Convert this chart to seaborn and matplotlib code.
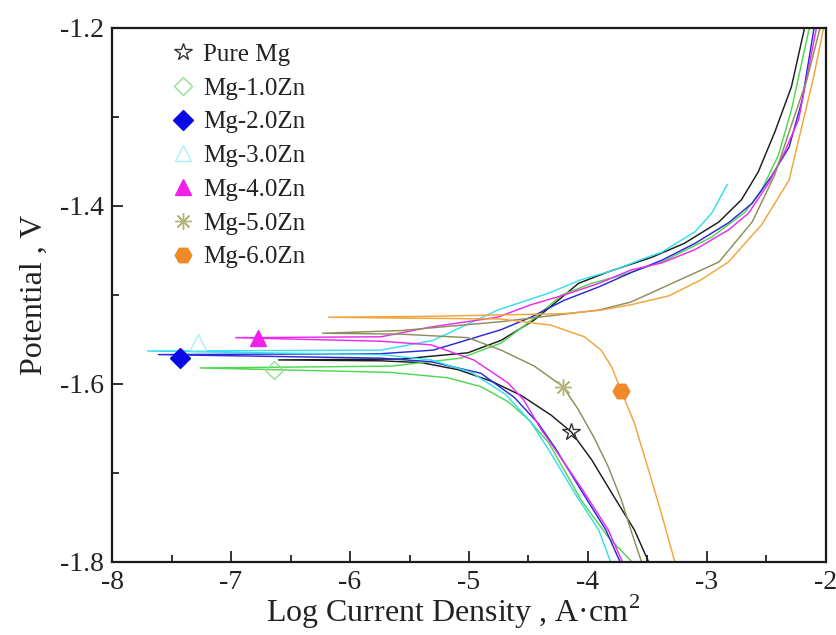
import numpy as np
import pandas as pd
import matplotlib
matplotlib.use("Agg")
import matplotlib.pyplot as plt
from matplotlib.lines import Line2D
from matplotlib.ticker import MultipleLocator
import seaborn as sns

# Potentiodynamic polarization curves of Mg-Zn alloys.
# Each path runs from the cathodic end (bottom), into the corrosion-potential
# spike, and back out along the anodic branch (top right).
ALLOYS = ["Pure Mg", "Mg-1.0Zn", "Mg-2.0Zn", "Mg-3.0Zn", "Mg-4.0Zn", "Mg-5.0Zn", "Mg-6.0Zn"]

PURE_MG_LOGI = [-3.49, -3.61, -3.78, -3.97, -4.14, -4.31, -4.56, -4.81, -5.09, -5.40, -5.74, -6.60,
                -5.57, -5.01, -4.73, -4.45, -4.25, -4.08, -3.83, -3.47, -3.19, -2.90, -2.71, -2.57,
                -2.43, -2.29, -2.18]
PURE_MG_E = [-1.800, -1.764, -1.727, -1.685, -1.654, -1.635, -1.613, -1.597, -1.584, -1.576, -1.574, -1.573,
             -1.572, -1.565, -1.551, -1.528, -1.506, -1.487, -1.474, -1.458, -1.442, -1.418, -1.393, -1.362,
             -1.317, -1.266, -1.200]

ZN10_LOGI = [-3.63, -3.83, -4.06, -4.33, -4.50, -4.67, -4.90, -5.18, -5.66, -7.26,
             -5.66, -5.07, -4.73, -4.45, -4.22, -3.97, -3.72, -3.38, -2.96, -2.68, -2.54, -2.40, -2.29, -2.14]
ZN10_E = [-1.800, -1.772, -1.730, -1.666, -1.640, -1.620, -1.603, -1.593, -1.587, -1.582,
          -1.580, -1.571, -1.554, -1.526, -1.500, -1.487, -1.478, -1.463, -1.435, -1.407, -1.382, -1.343, -1.292, -1.200]

ZN20_LOGI = [-3.73, -3.85, -4.06, -4.28, -4.42, -4.62, -4.90, -5.32, -5.74, -7.61,
             -5.74, -5.30, -4.73, -4.48, -4.20, -3.91, -3.64, -3.38, -3.10, -2.82, -2.62, -2.46, -2.31, -2.20, -2.10]
ZN20_E = [-1.800, -1.764, -1.719, -1.671, -1.644, -1.615, -1.588, -1.575, -1.571, -1.567,
          -1.566, -1.562, -1.539, -1.525, -1.506, -1.491, -1.475, -1.461, -1.442, -1.419, -1.397, -1.367, -1.334, -1.281, -1.200]

ZN30_LOGI = [-3.81, -3.91, -4.10, -4.33, -4.48, -4.69, -4.98, -5.32, -5.74, -7.70,
             -5.74, -5.30, -4.76, -4.33, -4.06, -3.78, -3.49, -3.38, -3.10, -2.96, -2.83]
ZN30_E = [-1.800, -1.764, -1.725, -1.674, -1.643, -1.612, -1.587, -1.573, -1.567, -1.563,
          -1.562, -1.551, -1.517, -1.498, -1.483, -1.472, -1.457, -1.452, -1.429, -1.408, -1.376]

ZN40_LOGI = [-3.71, -3.83, -4.06, -4.33, -4.39, -4.54, -4.67, -4.96, -5.32, -5.74, -6.96,
             -5.74, -5.32, -4.76, -4.48, -4.20, -3.91, -3.64, -3.38, -3.10, -2.82, -2.65, -2.48, -2.35, -2.23, -2.08]
ZN40_E = [-1.800, -1.764, -1.716, -1.663, -1.652, -1.618, -1.599, -1.573, -1.556, -1.552, -1.548,
          -1.547, -1.536, -1.525, -1.511, -1.500, -1.487, -1.472, -1.464, -1.449, -1.427, -1.408, -1.374, -1.340, -1.303, -1.200]

ZN50_LOGI = [-3.55, -3.64, -3.72, -3.83, -3.95, -4.08, -4.21, -4.45, -4.73, -5.01, -5.57, -6.23,
             -5.57, -4.73, -4.48, -3.91, -3.64, -3.36, -2.90, -2.62, -2.43, -2.29, -2.16, -2.05]
ZN50_E = [-1.800, -1.764, -1.730, -1.693, -1.660, -1.629, -1.603, -1.580, -1.562, -1.548, -1.544, -1.543,
          -1.540, -1.530, -1.526, -1.517, -1.508, -1.491, -1.463, -1.418, -1.365, -1.309, -1.258, -1.200]

ZN60_LOGI = [-3.27, -3.38, -3.49, -3.61, -3.72, -3.80, -3.89, -4.03, -4.31, -4.73, -5.57, -6.18,
             -5.32, -4.20, -3.89, -3.64, -3.32, -3.05, -2.82, -2.54, -2.31, -2.20, -2.10, -2.02]
ZN60_E = [-1.800, -1.747, -1.697, -1.644, -1.608, -1.581, -1.562, -1.547, -1.534, -1.527, -1.526, -1.525,
          -1.524, -1.521, -1.517, -1.511, -1.501, -1.483, -1.463, -1.421, -1.371, -1.309, -1.253, -1.200]

# One symbol per curve
MARKER_LOGI = [-4.14, -6.64, -7.43, -7.28, -6.77, -4.21, -3.72]
MARKER_E = [-1.654, -1.584, -1.571, -1.553, -1.548, -1.603, -1.608]

LINE_COLORS = ["#1c1c1c", "#4fd84f", "#2a2ad8", "#35dff0", "#ee2aee", "#8e8e5c", "#f2a43a"]
MARK_COLORS = ["#333333", "#8fe08f", "#0a0ae6", "#aaf0f4", "#f020e8", "#b4b478", "#f08a28"]
MARK_FACES = ["none", "none", "#0a0ae6", "none", "#f020e8", "#b4b478", "#f08a28"]
MARK_SHAPES = ["*", "D", "D", "^", "^", (8, 2, 0), "H"]
MARK_SIZES = [13, 9, 10, 11, 11, 12, 12]

paths = [(PURE_MG_LOGI, PURE_MG_E), (ZN10_LOGI, ZN10_E), (ZN20_LOGI, ZN20_E), (ZN30_LOGI, ZN30_E),
         (ZN40_LOGI, ZN40_E), (ZN50_LOGI, ZN50_E), (ZN60_LOGI, ZN60_E)]

frames = []
for name, (li, e) in zip(ALLOYS, paths):
    frames.append(pd.DataFrame({"logi": li, "E": e, "alloy": name, "order": np.arange(len(li))}))
df = pd.concat(frames, ignore_index=True)

sns.set_theme(style="ticks")
plt.rcParams["font.family"] = ["Liberation Serif", "DejaVu Serif"]
plt.rcParams["mathtext.fontset"] = "custom"
plt.rcParams["mathtext.rm"] = "Liberation Serif"

fig = plt.figure(figsize=(8.36, 6.35), dpi=100)
ax = fig.add_axes([0.134, 0.115, 0.854, 0.841])

sns.lineplot(data=df, x="logi", y="E", hue="alloy", hue_order=ALLOYS,
             palette=dict(zip(ALLOYS, LINE_COLORS)), sort=False, estimator=None,
             units="alloy", linewidth=1.05, legend=False, ax=ax)

handles = []
for i, name in enumerate(ALLOYS):
    ax.plot(MARKER_LOGI[i], MARKER_E[i], linestyle="none", marker=MARK_SHAPES[i],
            markersize=MARK_SIZES[i], markerfacecolor=MARK_FACES[i],
            markeredgecolor=MARK_COLORS[i], markeredgewidth=1.0, zorder=5)
    handles.append(Line2D([], [], linestyle="none", marker=MARK_SHAPES[i],
                          markersize=MARK_SIZES[i], markerfacecolor=MARK_FACES[i],
                          markeredgecolor=MARK_COLORS[i], markeredgewidth=1.0, label=name))

ax.set_xlim(-8, -2)
ax.set_ylim(-1.8, -1.2)
ax.xaxis.set_major_locator(MultipleLocator(1))
ax.xaxis.set_minor_locator(MultipleLocator(0.5))
ax.yaxis.set_major_locator(MultipleLocator(0.2))
ax.yaxis.set_minor_locator(MultipleLocator(0.1))
ax.set_xticklabels([f"{v:g}" for v in ax.get_xticks()])
ax.set_yticklabels([f"{v:.1f}" for v in ax.get_yticks()])
ax.tick_params(which="both", direction="in", top=False, right=False, width=1.3,
               labelsize=20, colors="#222222")
ax.tick_params(which="major", length=8, pad=6)
ax.tick_params(which="minor", length=5)
for sp in ax.spines.values():
    sp.set_linewidth(1.6)
    sp.set_color("#1a1a1a")

ax.set_xlabel(r"Log Current Density , A·cm$^{2}$", fontsize=23, color="#222222")
ax.xaxis.set_label_coords(0.477, -0.058)
ax.set_ylabel("Potential , V", fontsize=23, color="#222222", labelpad=8)

leg = ax.legend(handles=handles, loc="upper left", bbox_to_anchor=(0.065, 0.99),
                frameon=False, fontsize=18, labelspacing=0.45, handletextpad=0.2,
                handlelength=1.2, borderaxespad=0.0)
for t in leg.get_texts():
    t.set_color("#222222")

fig.savefig("out.png", dpi=100)
